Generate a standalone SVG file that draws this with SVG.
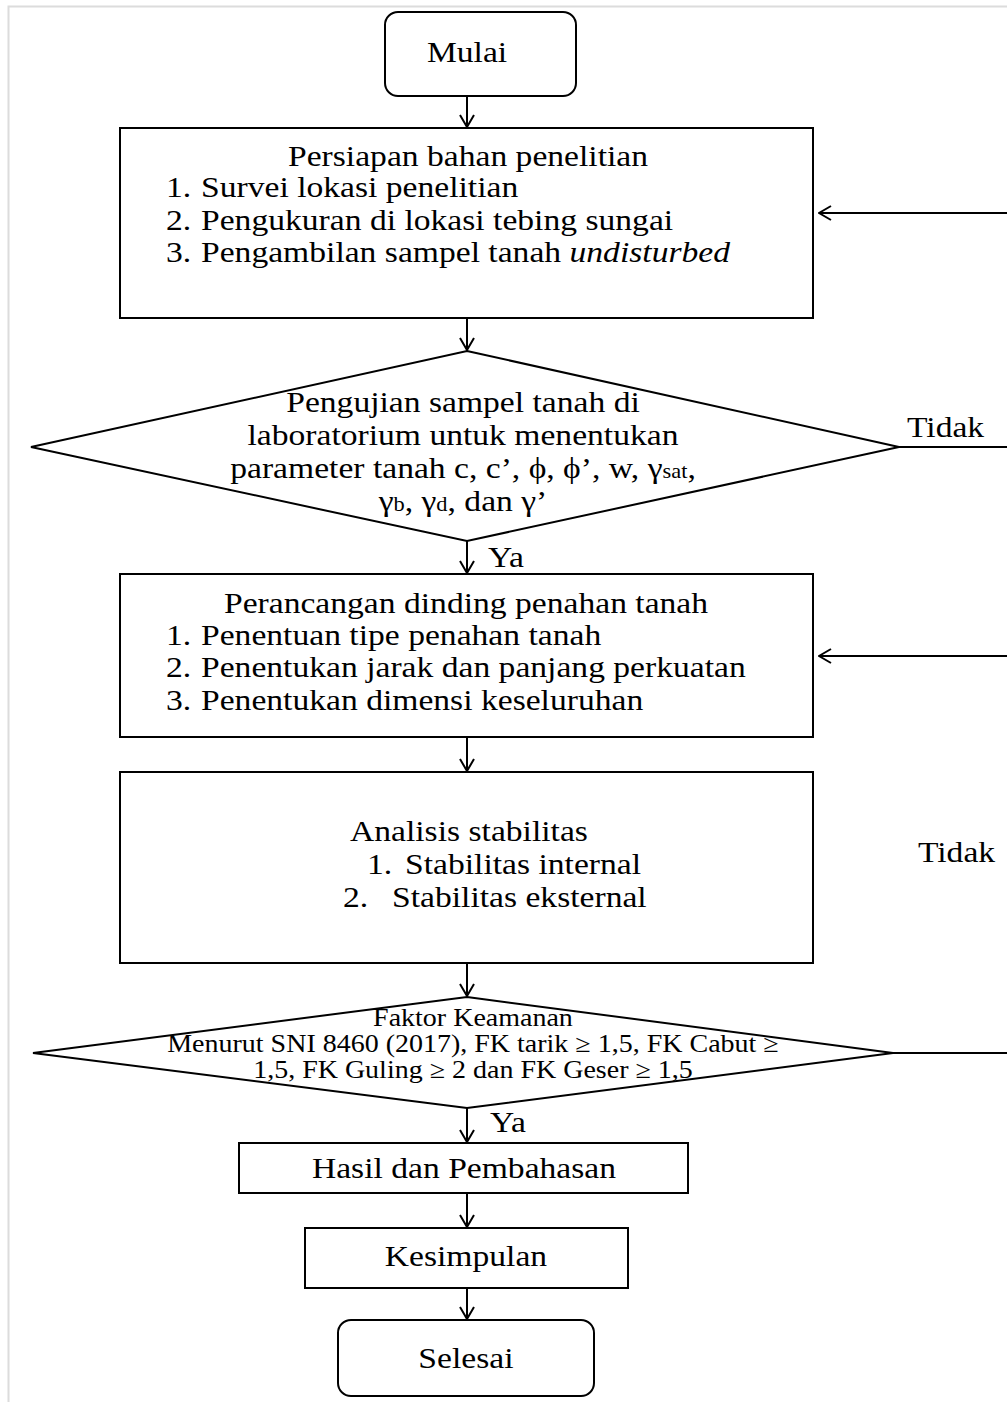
<svg xmlns="http://www.w3.org/2000/svg" width="1007" height="1402" viewBox="0 0 1007 1402">
<style>
.bg{fill:#fff}
.frame{stroke:#dcdcdc;stroke-width:2;fill:none}
.n{fill:#fff;stroke:#000;stroke-width:2}
.c{stroke:#000;stroke-width:2;fill:none}
.t{font-family:"Liberation Serif","Times New Roman",serif;font-size:30px;fill:#000}
.s{font-family:"Liberation Serif","Times New Roman",serif;font-size:25px;fill:#000}
.m{text-anchor:middle}
</style>
<defs>
<marker id="ah" viewBox="0 0 14 16" markerWidth="14" markerHeight="16" refX="13" refY="8" orient="auto" markerUnits="userSpaceOnUse">
<path d="M1,1 L13,8 L1,15" fill="none" stroke="#000" stroke-width="2"/>
</marker>
</defs>
<rect class="bg" x="0" y="0" width="1007" height="1402"/>
<path class="frame" d="M8.5,1402 V6.5 H1007"/>

<g id="connectors">
<line class="c" x1="467" y1="96" x2="467" y2="127" marker-end="url(#ah)"/>
<line class="c" x1="467" y1="318" x2="467" y2="350" marker-end="url(#ah)"/>
<line class="c" x1="467" y1="541" x2="467" y2="573" marker-end="url(#ah)"/>
<line class="c" x1="467" y1="737" x2="467" y2="771" marker-end="url(#ah)"/>
<line class="c" x1="467" y1="963" x2="467" y2="996" marker-end="url(#ah)"/>
<line class="c" x1="467" y1="1108" x2="467" y2="1142" marker-end="url(#ah)"/>
<line class="c" x1="467" y1="1193" x2="467" y2="1227" marker-end="url(#ah)"/>
<line class="c" x1="467" y1="1288" x2="467" y2="1319" marker-end="url(#ah)"/>
<line class="c" x1="1007" y1="213" x2="819" y2="213" marker-end="url(#ah)"/>
<line class="c" x1="1007" y1="656" x2="819" y2="656" marker-end="url(#ah)"/>
<line class="c" x1="899" y1="447" x2="1007" y2="447"/>
<line class="c" x1="893" y1="1053" x2="1007" y2="1053"/>
<text class="t" transform="scale(1.12 1)" x="809.8" y="437">Tidak</text>
<text class="t" transform="scale(1.12 1)" x="819.6" y="862">Tidak</text>
<text class="t" transform="scale(1.12 1)" x="435.7" y="567">Ya</text>
<text class="t" transform="scale(1.12 1)" x="437.5" y="1132">Ya</text>
</g>

<g id="mulai">
<rect class="n" x="385" y="12" width="191" height="84" rx="13"/>
<text class="t m" transform="scale(1.12 1)" x="417" y="62">Mulai</text>
</g>

<g id="persiapan">
<rect class="n" x="120" y="128" width="693" height="190"/>
<g class="t" transform="scale(1.12 1)">
<text class="m" x="417.9" y="166">Persiapan bahan penelitian</text>
<text x="148.2" y="197">1.</text><text x="179.5" y="197">Survei lokasi penelitian</text>
<text x="148.2" y="230">2.</text><text x="179.5" y="230">Pengukuran di lokasi tebing sungai</text>
<text x="148.2" y="262">3.</text><text x="179.5" y="262">Pengambilan sampel tanah <tspan font-style="italic">undisturbed</tspan></text>
</g>
</g>

<g id="pengujian">
<polygon class="n" points="467,351 899,447 467,541 31,447"/>
<g class="t m" transform="scale(1.12 1)">
<text x="413.4" y="412">Pengujian sampel tanah di</text>
<text x="413.4" y="445">laboratorium untuk menentukan</text>
<text x="413.4" y="478">parameter tanah c, c’, ϕ, ϕ’, w, γ<tspan font-size="20">sat</tspan>,</text>
<text x="413.4" y="511">γ<tspan font-size="20">b</tspan>, γ<tspan font-size="20">d</tspan>, dan γ’</text>
</g>
</g>

<g id="perancangan">
<rect class="n" x="120" y="574" width="693" height="163"/>
<g class="t" transform="scale(1.12 1)">
<text class="m" x="416.1" y="613">Perancangan dinding penahan tanah</text>
<text x="148.2" y="645">1.</text><text x="179.5" y="645">Penentuan tipe penahan tanah</text>
<text x="148.2" y="677">2.</text><text x="179.5" y="677">Penentukan jarak dan panjang perkuatan</text>
<text x="148.2" y="710">3.</text><text x="179.5" y="710">Penentukan dimensi keseluruhan</text>
</g>
</g>

<g id="analisis">
<rect class="n" x="120" y="772" width="693" height="191"/>
<g class="t" transform="scale(1.12 1)">
<text x="312.5" y="841">Analisis stabilitas</text>
<text x="327.7" y="874">1.</text><text x="361.6" y="874">Stabilitas internal</text>
<text x="306.3" y="907">2.</text><text x="350" y="907">Stabilitas eksternal</text>
</g>
</g>

<g id="faktor">
<polygon class="n" points="467,997 893,1053 467,1108 33,1053"/>
<g class="s m" transform="scale(1.12 1)">
<text x="422.3" y="1026">Faktor Keamanan</text>
<text x="422.3" y="1052">Menurut SNI 8460 (2017), FK tarik ≥ 1,5, FK Cabut ≥</text>
<text x="422.3" y="1078">1,5, FK Guling ≥ 2 dan FK Geser ≥ 1,5</text>
</g>
</g>

<g id="hasil">
<rect class="n" x="239" y="1143" width="449" height="50"/>
<text class="t m" transform="scale(1.12 1)" x="414.3" y="1178">Hasil dan Pembahasan</text>
</g>

<g id="kesimpulan">
<rect class="n" x="305" y="1228" width="323" height="60"/>
<text class="t m" transform="scale(1.12 1)" x="416" y="1266">Kesimpulan</text>
</g>

<g id="selesai">
<rect class="n" x="338" y="1320" width="256" height="76" rx="13"/>
<text class="t m" transform="scale(1.12 1)" x="416" y="1368">Selesai</text>
</g>
</svg>
